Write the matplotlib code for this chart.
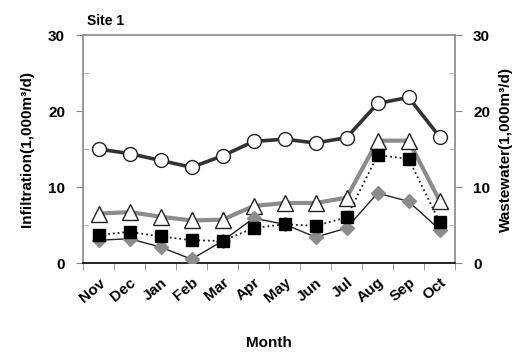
import matplotlib.pyplot as plt
import numpy as np

months = ['Nov', 'Dec', 'Jan', 'Feb', 'Mar', 'Apr', 'May', 'Jun', 'Jul', 'Aug', 'Sep', 'Oct']
wastewater = [15.0, 14.4, 13.5, 12.6, 14.1, 16.0, 16.3, 15.8, 16.5, 21.0, 21.8, 16.6]
infil_tri = [6.5, 6.7, 6.1, 5.6, 5.7, 7.5, 7.9, 7.9, 8.6, 16.1, 16.1, 8.2]
infil_sq = [3.7, 4.1, 3.5, 3.0, 2.9, 4.6, 5.1, 4.9, 6.0, 14.2, 13.7, 5.4]
infil_dia = [3.0, 3.2, 2.1, 0.5, 2.9, 5.9, 5.1, 3.4, 4.6, 9.2, 8.1, 4.4]

plt.rcParams['font.family'] = ['Liberation Sans', 'DejaVu Sans']
plt.rcParams['font.weight'] = 'bold'

fig = plt.figure(figsize=(5.16, 3.54), dpi=100)
ax = fig.add_axes([0.161, 0.257, 0.721, 0.644])
x = np.arange(len(months))

ax.plot(x, wastewater, color='#333333', lw=2.6, marker='o', ms=10,
        mfc='white', mec='#222222', mew=1.0, zorder=3)
ax.plot(x, infil_tri, color='#8c8c8c', lw=3.0, marker='^', ms=11,
        mfc='white', mec='#222222', mew=1.0, zorder=3)
ax.plot(x, infil_dia, color='#222222', lw=1.0, marker='D', ms=7,
        mfc='#8c8c8c', mec='#8c8c8c', zorder=3)
ax.plot(x, infil_sq, color='#222222', lw=1.3, ls=':', marker='s', ms=9,
        mfc='black', mec='black', zorder=4)

ax.set_xlim(-0.5, len(months) - 0.5)
ax.set_ylim(0, 30)
ax.set_yticks([0, 10, 20, 30])
ax.set_yticks([5, 15, 25], minor=True)
ax.set_xticks(x)
ax.set_xticklabels(months, rotation=40, ha='right', rotation_mode='anchor',
                   fontsize=11, fontweight='bold')
ax.set_xticks(np.arange(-0.5, len(months), 1.0), minor=True)
ax.tick_params(axis='x', which='major', length=0, pad=9)
ax.tick_params(axis='x', which='minor', length=5, color='#888888', direction='out')
ax.tick_params(axis='y', which='major', length=5, color='#888888', direction='out',
               labelsize=11, pad=8)
ax.tick_params(axis='y', which='minor', length=4, color='#aaaaaa', direction='in')
for lbl in ax.get_yticklabels():
    lbl.set_fontweight('bold')

for side in ['left', 'right', 'top']:
    ax.spines[side].set_color('#888888')
    ax.spines[side].set_linewidth(1.2)
ax.spines['bottom'].set_color('black')
ax.spines['bottom'].set_linewidth(1.2)

ax2 = ax.twinx()
ax2.set_ylim(0, 30)
ax2.set_yticks([0, 10, 20, 30])
ax2.set_yticks([5, 15, 25], minor=True)
ax2.tick_params(axis='y', which='major', length=5, color='#888888', direction='out',
                labelsize=11, pad=8)
ax2.tick_params(axis='y', which='minor', length=4, color='#aaaaaa', direction='in')
for lbl in ax2.get_yticklabels():
    lbl.set_fontweight('bold')
for side in ['left', 'right', 'top', 'bottom']:
    ax2.spines[side].set_visible(False)

ax.set_ylabel('Infiltration(1,000m³/d)', fontsize=11, fontweight='bold', labelpad=10)
ax2.set_ylabel('Wastewater(1,000m³/d)', fontsize=11, fontweight='bold', labelpad=6)
ax.set_xlabel('Month', fontsize=11, fontweight='bold', labelpad=22)
ax.text(0.01, 1.03, 'Site 1', transform=ax.transAxes, fontsize=10, fontweight='bold',
        va='bottom', ha='left')

plt.savefig('out.png', dpi=100)
